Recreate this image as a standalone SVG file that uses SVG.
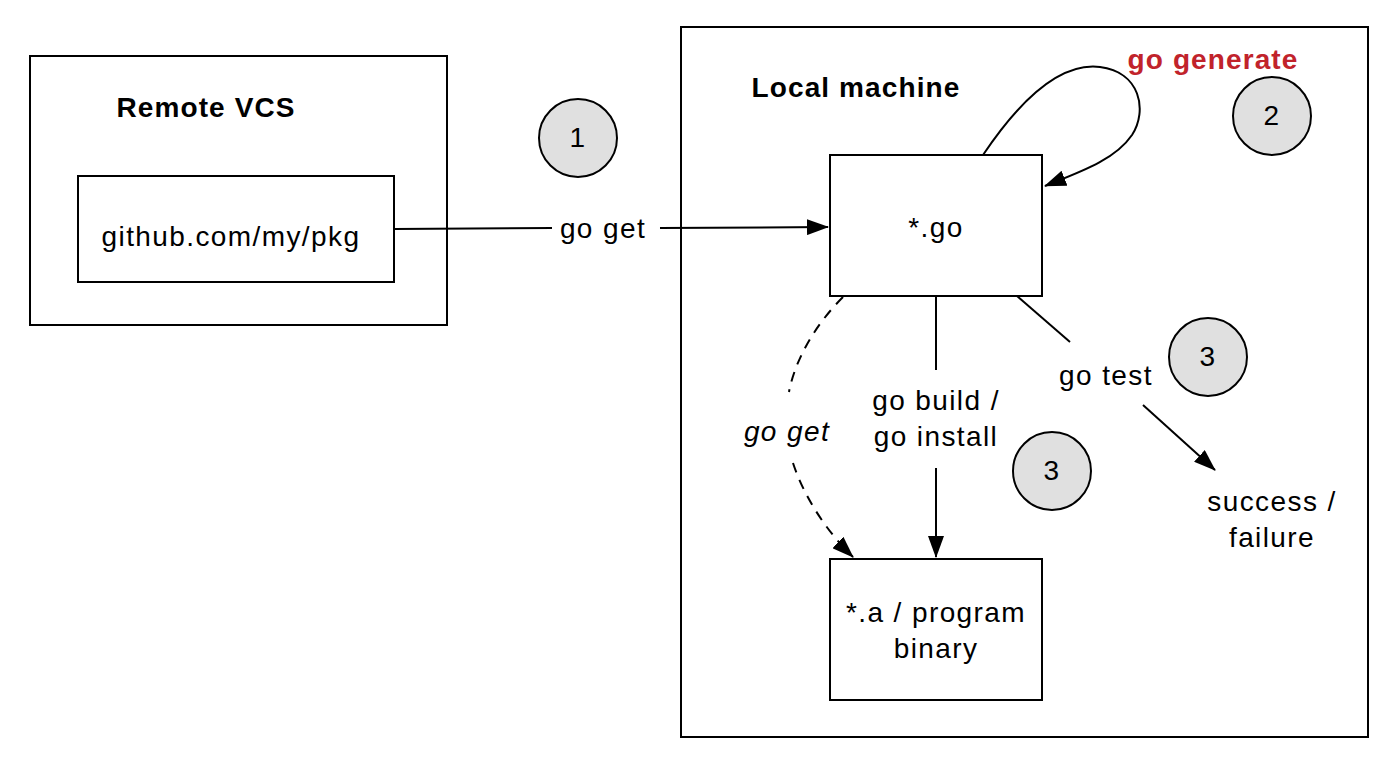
<svg xmlns="http://www.w3.org/2000/svg" width="1397" height="765" viewBox="0 0 1397 765">
<defs>
<style>
.box{fill:#fff;stroke:#000;stroke-width:2}
.ln{fill:none;stroke:#000;stroke-width:2}
.dash{stroke-dasharray:10 8}
.t{font-family:"Liberation Sans",Arial,sans-serif;font-size:28px;letter-spacing:1.4px;fill:#000;text-anchor:middle}
.b{font-weight:bold;letter-spacing:1.1px}
.circ{fill:#e0e0e0;stroke:#000;stroke-width:2}
</style>
<marker id="ahl" markerWidth="22" markerHeight="16" refX="21" refY="8" orient="auto" markerUnits="userSpaceOnUse" viewBox="0 0 22 16">
<path d="M0,0 L22,8 L0,16 z" fill="#000"/>
</marker>
</defs>
<rect width="1397" height="765" fill="#fff"/>
<g id="remote">
<rect class="box" x="30" y="56" width="417" height="269"/>
<text class="t b" x="206" y="117">Remote VCS</text>
</g>
<g id="pkg">
<rect class="box" x="78" y="176" width="316" height="106"/>
<text class="t" x="231" y="246">github.com/my/pkg</text>
</g>
<g id="local">
<rect class="box" x="681" y="27" width="687" height="710"/>
<text class="t b" x="856" y="97">Local machine</text>
</g>
<g id="gofiles">
<rect class="box" x="830" y="155" width="212" height="141"/>
<text class="t" x="936" y="237">*.go</text>
</g>
<g id="binary">
<rect class="box" x="830" y="559" width="212" height="141"/>
<text class="t" x="936" y="622">*.a / program</text>
<text class="t" x="936" y="658">binary</text>
</g>
<g id="result">
<text class="t" x="1272" y="511">success /</text>
<text class="t" x="1272" y="547">failure</text>
</g>
<g id="c1"><circle class="circ" cx="578" cy="138" r="39"/><text class="t" x="578" y="147">1</text></g>
<g id="c2"><circle class="circ" cx="1272" cy="116" r="39"/><text class="t" x="1272" y="125">2</text></g>
<g id="c3a"><circle class="circ" cx="1208" cy="357" r="39"/><text class="t" x="1208" y="366">3</text></g>
<g id="c3b"><circle class="circ" cx="1052" cy="471" r="39"/><text class="t" x="1052" y="480">3</text></g>
<g id="connectors">
<path class="ln" d="M394,229 L552,228"/>
<path class="ln" d="M660,228 L828,227" marker-end="url(#ahl)"/>
<text class="t" x="603" y="238">go get</text>
<path class="ln" d="M983,155 C1020,100 1060,62 1100,67 C1140,72 1148,110 1132,135 C1115,160 1080,172 1045,186" marker-end="url(#ahl)"/>
<text class="t b" x="1213" y="69" style="fill:#c1232b">go generate</text>
<path class="ln dash" d="M843,297 C815,325 795,360 789,392"/>
<path class="ln dash" d="M793,463 C805,500 830,535 853,557" marker-end="url(#ahl)"/>
<text class="t" x="787" y="441" style="font-style:italic">go get</text>
<path class="ln" d="M936,297 L936,370"/>
<path class="ln" d="M936,468 L936,557" marker-end="url(#ahl)"/>
<text class="t" x="936" y="410">go build /</text>
<text class="t" x="936" y="446">go install</text>
<path class="ln" d="M1017,296 L1070,342"/>
<path class="ln" d="M1143,405 L1215,470" marker-end="url(#ahl)"/>
<text class="t" x="1106" y="385">go test</text>
</g>
</svg>
